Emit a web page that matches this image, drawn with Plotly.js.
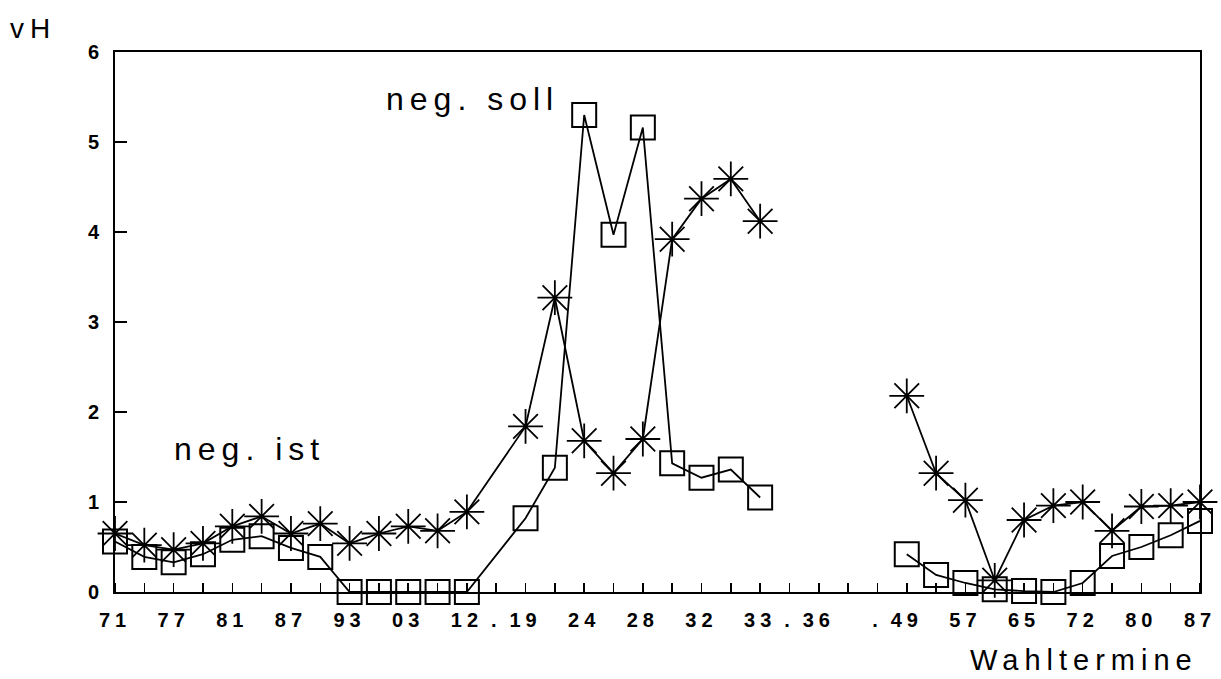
<!DOCTYPE html>
<html>
<head>
<meta charset="utf-8">
<script src="https://cdn.plot.ly/plotly-3.0.1.min.js"></script>
<style>
  html, body { margin: 0; padding: 0; background: #fff; }
  #chart { width: 1221px; height: 679px; }
  #chart .xtick text { letter-spacing: 5px; }
  #chart .annotation-text { letter-spacing: 6px; }
</style>
</head>
<body>
<div id="chart"></div>
<script>
// Election slots on the time axis (index of position), elections, values
const elections = ["1871","1874","1877","1878","1881","1884","1887","1890","1893","1898","1903","1907","1912",
  "1919","1920","1924a","1924b","1928","1930","1932a","1932b","1933",
  "1949","1953","1957","1961","1965","1969","1972","1976","1980","1983","1987"];
const slots = [0,1,2,3,4,5,6,7,8,9,10,11,12,
  14,15,16,17,18,19,20,21,22,
  27,28,29,30,31,32,33,34,35,36,37];
// neg. soll (squares)
const negSoll = [0.56,0.39,0.33,0.42,0.58,0.62,0.49,0.39,0.00,0.00,0.00,0.00,0.00,
  0.82,1.38,5.30,3.97,5.16,1.43,1.27,1.36,1.05,
  0.42,0.19,0.10,0.03,0.01,0.00,0.10,0.40,0.50,0.63,0.79];
// neg. ist (asterisks)
const negIst = [0.65,0.52,0.47,0.54,0.73,0.84,0.65,0.76,0.54,0.65,0.73,0.68,0.89,
  1.84,3.27,1.68,1.32,1.70,3.92,4.37,4.59,4.12,
  2.18,1.32,1.02,0.13,0.80,0.96,1.00,0.68,0.95,0.96,1.00];
// tick labels
const tickSlots = [0,2,4,6,8,10,12,13,14,16,18,20,22,23,24,26,27,29,31,33,35,37];
const tickLabels = ["71","77","81","87","93","03","12",".","19","24","28","32","33",".","36",".","49","57","65","72","80","87"];
const yTicks = [0,1,2,3,4,5,6];

// split into line segments where there is a large gap in slots
function withBreaks(xs, ys) {
  const X = [], Y = [];
  for (let i = 0; i < xs.length; i++) {
    if (i > 0 && xs[i] - xs[i-1] > 2) { X.push(null); Y.push(null); }
    X.push(xs[i]); Y.push(ys[i]);
  }
  return {X, Y};
}
const s = withBreaks(slots, negSoll);
const t = withBreaks(slots, negIst);

const traces = [
  {
    x: s.X, y: s.Y, name: "neg. soll", type: "scatter", mode: "lines+markers",
    connectgaps: false, cliponaxis: false,
    line: {color: "#000", width: 1.8},
    marker: {symbol: "square-open", size: 24, color: "#000", line: {width: 2, color: "#000"}}
  },
  {
    x: t.X, y: t.Y, name: "neg. ist", type: "scatter", mode: "lines+markers",
    connectgaps: false, cliponaxis: false,
    line: {color: "#000", width: 1.8},
    marker: {symbol: "asterisk-open", size: 29, color: "#000", line: {width: 1.8, color: "#000"}}
  }
];

const tickFont = {family: "Liberation Sans, Arial, sans-serif", size: 20, color: "#000", weight: "bold"};
const labFont = {family: "Liberation Sans, Arial, sans-serif", size: 32, color: "#000"};

const layout = {
  width: 1221, height: 679,
  paper_bgcolor: "#fff", plot_bgcolor: "#fff",
  margin: {l: 115, r: 21, t: 52, b: 87},
  showlegend: false,
  xaxis: {
    range: [0, 37], showgrid: false, zeroline: false,
    showline: true, linecolor: "#000", linewidth: 2, mirror: true,
    tickmode: "array", tickvals: tickSlots, ticktext: tickLabels,
    ticks: "", tickfont: tickFont, ticklabelstandoff: 9,
    minor: {tickmode: "linear", tick0: 0, dtick: 1, ticks: "inside", ticklen: 9, tickwidth: 1.5, tickcolor: "#000", showgrid: false}
  },
  yaxis: {
    range: [0, 6], showgrid: false, zeroline: false,
    showline: true, linecolor: "#000", linewidth: 2, mirror: true,
    tickmode: "array", tickvals: yTicks, ticktext: yTicks.map(String),
    ticks: "inside", ticklen: 12, tickwidth: 1.5, tickcolor: "#000",
    tickfont: tickFont, ticklabelstandoff: 10
  },
  annotations: [
    {text: "neg. soll", xref: "paper", yref: "paper", x: 0.3296, y: 0.876, xanchor: "center", yanchor: "bottom", showarrow: false, font: labFont},
    {text: "neg. ist", xref: "paper", yref: "paper", x: 0.1244, y: 0.228, xanchor: "center", yanchor: "bottom", showarrow: false, font: labFont},
    {text: "Wahltermine", xref: "paper", yref: "paper", x: 0.8931, y: -0.159, xanchor: "center", yanchor: "bottom", showarrow: false,
     font: {family: "Liberation Sans, Arial, sans-serif", size: 29, color: "#000"}},
    {text: "vH", xref: "paper", yref: "paper", x: -0.0756, y: 1.011, xanchor: "center", yanchor: "bottom", showarrow: false,
     font: {family: "Liberation Sans, Arial, sans-serif", size: 28, color: "#000"}}
  ]
};

Plotly.newPlot("chart", traces, layout, {displayModeBar: false, staticPlot: true});
</script>
</body>
</html>
